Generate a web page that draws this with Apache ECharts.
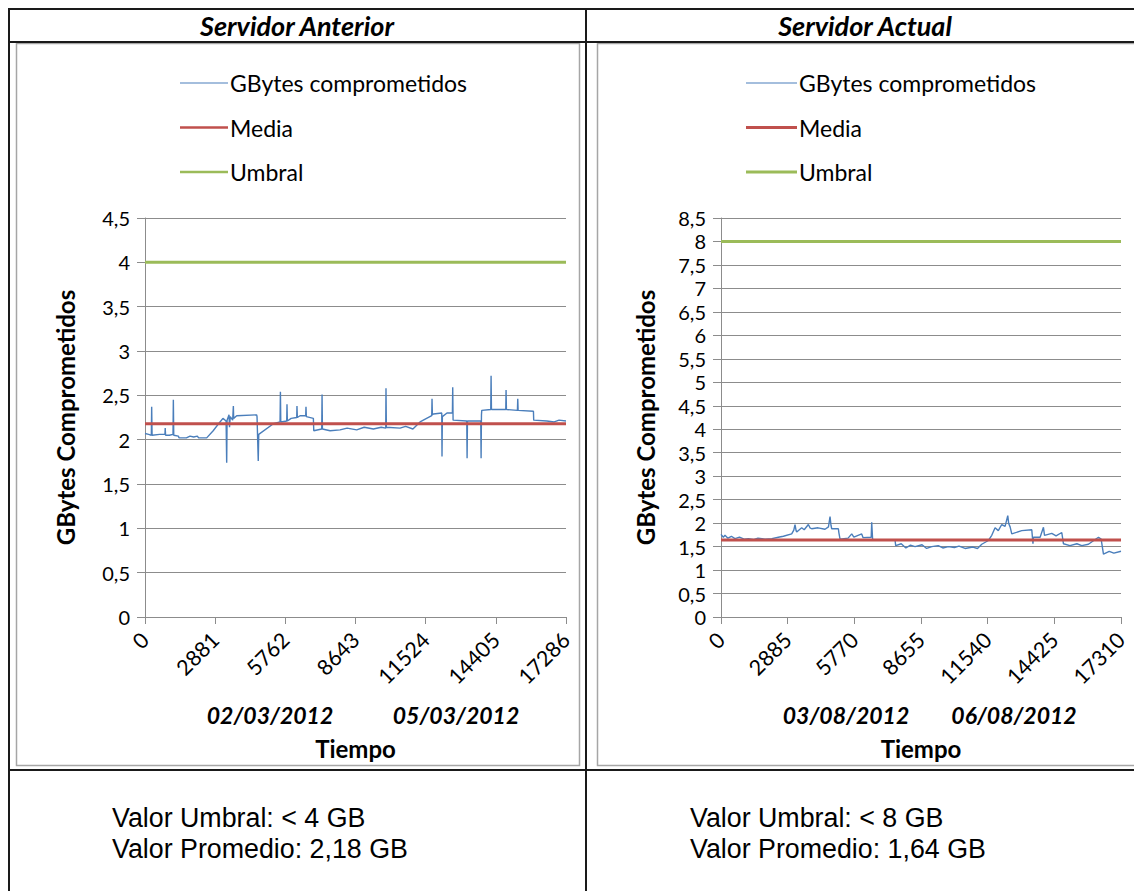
<!DOCTYPE html>
<html><head><meta charset="utf-8">
<script src="https://cdn.jsdelivr.net/npm/echarts@6/dist/echarts.min.js"></script>
<style>html,body{margin:0;padding:0;background:#fff;}#c{width:1134px;height:891px;}</style>
</head><body><div id="c"></div>
<script>
// ---------- DATA ----------
const panelTitles = ['Servidor Anterior', 'Servidor Actual'];
const seriesNames = ['GBytes comprometidos', 'Media', 'Umbral'];
const yAxisName = 'GBytes Comprometidos';
const xAxisName = 'Tiempo';

const leftTicks = [0, 2881, 5762, 8643, 11524, 14405, 17286];
const rightTicks = [0, 2885, 5770, 8655, 11540, 14425, 17310];
const leftDates = ['02/03/2012', '05/03/2012'];
const rightDates = ['03/08/2012', '06/08/2012'];
const leftYMax = 4.5, rightYMax = 8.5;

const leftMedia = 2.18, leftUmbral = 4;
const rightMedia = 1.64, rightUmbral = 8;

const leftNotes = ['Valor Umbral: < 4 GB', 'Valor Promedio: 2,18 GB'];
const rightNotes = ['Valor Umbral: < 8 GB', 'Valor Promedio: 1,64 GB'];

const leftIdx = [0,150,260,274,290,600,820,830,845,1000,1150,1164,1180,1369,1400,1700,1848,2000,2150,2200,2533,2800,3080,3200,3330,3354,3370,3450,3470,3500,3600,3628,3640,3765,4586,4600,4650,4670,5271,5545,5560,5575,5819,5830,5845,6000,6230,6240,6255,6366,6599,6610,6625,6913,6930,7256,7270,7285,7600,8008,8300,8693,9000,9377,9700,9884,9895,9910,10473,10700,11000,11294,11773,11785,11800,11842,12184,12195,12210,12400,12622,12635,12650,13211,13225,13240,13786,13800,13815,13827,14197,14210,14225,14813,14825,14840,15292,15305,15320,15949,15960,16500,16800,17000,17286];
const leftVal = [2.07,2.06,2.05,2.37,2.05,2.06,2.06,2.13,2.05,2.05,2.06,2.45,2.05,2.04,2.02,2.02,2.04,2.03,2.04,2.02,2.02,2.10,2.20,2.24,2.21,1.74,2.22,2.28,2.14,2.26,2.22,2.38,2.24,2.27,2.28,2.26,1.76,2.06,2.18,2.20,2.54,2.20,2.21,2.40,2.21,2.24,2.25,2.38,2.25,2.27,2.27,2.37,2.26,2.24,2.10,2.12,2.51,2.12,2.10,2.11,2.13,2.11,2.14,2.12,2.14,2.13,2.58,2.14,2.13,2.15,2.12,2.20,2.27,2.46,2.28,2.29,2.30,1.81,2.26,2.30,2.30,2.59,2.22,2.21,1.79,2.21,2.21,1.79,2.28,2.33,2.34,2.72,2.34,2.34,2.56,2.34,2.33,2.46,2.33,2.32,2.22,2.21,2.20,2.22,2.21];

const rightIdx = [0,100,173,300,450,606,800,1000,1183,1400,1600,1905,2200,2482,2700,3059,3150,3203,3250,3276,3492,3600,3781,3850,3925,4200,4502,4650,4719,4760,4791,5079,5100,5152,5500,5657,5750,6089,6150,6500,6522,6560,6595,7532,7560,7800,8000,8200,8398,8700,8900,9120,9400,9600,9841,10100,10300,10563,10900,11100,11284,11573,11717,11861,12000,12150,12294,12410,12450,12511,12583,13016,13449,13500,13521,13810,13954,14000,14315,14500,14747,14820,15100,15400,15613,15900,16335,16450,16551,16800,17000,17310];
const rightVal = [1.76,1.70,1.74,1.68,1.72,1.67,1.70,1.66,1.67,1.65,1.68,1.66,1.67,1.70,1.72,1.77,1.85,1.97,1.84,1.81,1.90,1.86,1.97,1.90,1.88,1.90,1.87,1.92,2.14,1.95,1.88,1.88,1.80,1.66,1.68,1.77,1.70,1.77,1.69,1.70,2.02,1.66,1.64,1.64,1.52,1.56,1.47,1.53,1.50,1.54,1.46,1.50,1.52,1.47,1.50,1.48,1.51,1.46,1.49,1.46,1.55,1.63,1.74,1.90,1.84,1.97,1.93,2.16,1.99,1.92,1.77,1.84,1.86,1.56,1.70,1.70,1.91,1.74,1.78,1.73,1.80,1.56,1.52,1.56,1.52,1.55,1.70,1.66,1.34,1.40,1.36,1.40];

// ---------- STYLE ----------
const CAL = 'Lato';
const BLUE = '#4a7ebb', RED = '#c0504d', GREEN = '#9bbb59';
const GRID = '#8c8c8c';

const zip = (a, b) => a.map((v, i) => [v, b[i]]);
const comma = v => String(v).replace('.', ',');

function xAxisCfg(gi, ticks) {
  return {
    gridIndex: gi, type: 'value', min: ticks[0], max: ticks[ticks.length - 1],
    interval: ticks[1] - ticks[0],
    axisLine: { lineStyle: { color: GRID, width: 1 } },
    axisTick: { length: 7, lineStyle: { color: GRID } },
    splitLine: { show: false },
    axisLabel: { rotate: 45, margin: 19, color: '#000', fontFamily: CAL, fontSize: 21.5,
      formatter: v => String(v) },
    name: xAxisName, nameLocation: 'middle', nameGap: 119,
    nameTextStyle: { fontFamily: CAL, fontWeight: 'bold', fontSize: 24, color: '#000' }
  };
}
function yAxisCfg(gi, max, gap) {
  return {
    gridIndex: gi, type: 'value', min: 0, max: max, interval: 0.5,
    axisLine: { show: true, lineStyle: { color: GRID, width: 1 } },
    axisTick: { show: true, length: 8, lineStyle: { color: GRID } },
    splitLine: { lineStyle: { color: GRID, width: 1 } },
    axisLabel: { margin: 15, color: '#000', fontFamily: CAL, fontSize: 20, formatter: comma },
    name: yAxisName, nameLocation: 'middle', nameGap: gap, nameRotate: 90,
    nameTextStyle: { fontFamily: CAL, fontWeight: 'bold', fontSize: 24, color: '#000' }
  };
}
function seriesFor(gi, idx, val, ticks, media, umbral) {
  const xmax = ticks[ticks.length - 1];
  return [
    { name: seriesNames[0], type: 'line', xAxisIndex: gi, yAxisIndex: gi, data: zip(idx, val),
      symbol: 'none', lineStyle: { color: BLUE, width: 1.4 }, itemStyle: { color: BLUE }, z: 2 },
    { name: seriesNames[1], type: 'line', xAxisIndex: gi, yAxisIndex: gi, data: [[0, media], [xmax, media]],
      symbol: 'none', lineStyle: { color: RED, width: 3 }, itemStyle: { color: RED }, z: 3 },
    { name: seriesNames[2], type: 'line', xAxisIndex: gi, yAxisIndex: gi, data: [[0, umbral], [xmax, umbral]],
      symbol: 'none', lineStyle: { color: GREEN, width: 3 }, itemStyle: { color: GREEN }, z: 3 }
  ];
}
const legendIcons = ['path://M0,0H100V2.4H0Z', 'path://M0,0H100V5.6H0Z', 'path://M0,0H100V5.6H0Z'];
function legendCfg(left, w) {
  return { data: seriesNames.map((n, i) => ({ name: n, icon: legendIcons[i] })),
    orient: 'vertical', left: left, top: 66, itemWidth: w, itemHeight: 14,
    itemGap: 20.5, selectedMode: false,
    textStyle: { fontFamily: CAL, fontSize: 23, color: '#000', lineHeight: 24, padding: [0, 0, 0, -3] } };
}
const txt = (x, y, text, font, align) => ({ type: 'text', x, y, silent: true,
  style: { text, font, fill: '#000', align: align || 'center', verticalAlign: 'middle' } });
const line = (x1, y1, x2, y2, color, w) => ({ type: 'line', silent: true,
  shape: { x1, y1, x2, y2 }, style: { stroke: color, lineWidth: w } });

const BORDER = '#1a1a1a', BOX = '#a6a6a6';
const NOTE = '26.8px "Liberation Sans"';
const graphics = [
  { type: 'rect', silent: true, shape: { x: 16.5, y: 43.5, width: 563, height: 722 }, style: { fill: null, stroke: BOX, lineWidth: 1.5 } },
  { type: 'rect', silent: true, shape: { x: 597.5, y: 43.5, width: 560, height: 722 }, style: { fill: null, stroke: BOX, lineWidth: 1.5 } },
  line(8, 9, 1134, 9, BORDER, 2),
  line(8, 42, 1134, 42, BORDER, 2),
  line(8, 770, 1134, 770, BORDER, 2),
  line(9, 8, 9, 891, BORDER, 2),
  line(586, 8, 586, 891, BORDER, 2),
  txt(297, 25, panelTitles[0], 'italic bold 27px Lato'),
  txt(865, 25, panelTitles[1], 'italic bold 27px Lato'),
  txt(270, 715, leftDates[0], 'italic bold 23px Lato'),
  txt(456, 715, leftDates[1], 'italic bold 23px Lato'),
  txt(846, 715, rightDates[0], 'italic bold 23px Lato'),
  txt(1014, 715, rightDates[1], 'italic bold 23px Lato'),
  txt(112, 818, leftNotes[0], NOTE, 'left'),
  txt(112, 849, leftNotes[1], NOTE, 'left'),
  txt(690, 818, rightNotes[0], NOTE, 'left'),
  txt(690, 849, rightNotes[1], NOTE, 'left')
];

const chart = echarts.init(document.getElementById('c'), null, { renderer: 'svg' });
chart.setOption({
  animation: false,
  backgroundColor: '#fff',
  grid: [
    { left: 145, top: 218, width: 421, height: 399 },
    { left: 721, top: 218, width: 400, height: 399 }
  ],
  xAxis: [xAxisCfg(0, leftTicks), xAxisCfg(1, rightTicks)],
  yAxis: [yAxisCfg(0, leftYMax, 68), yAxisCfg(1, rightYMax, 64)],
  legend: [legendCfg(175, 48), legendCfg(741, 51)],
  series: [
    ...seriesFor(0, leftIdx, leftVal, leftTicks, leftMedia, leftUmbral),
    ...seriesFor(1, rightIdx, rightVal, rightTicks, rightMedia, rightUmbral)
  ],
  graphic: graphics
});
</script>
</body></html>
